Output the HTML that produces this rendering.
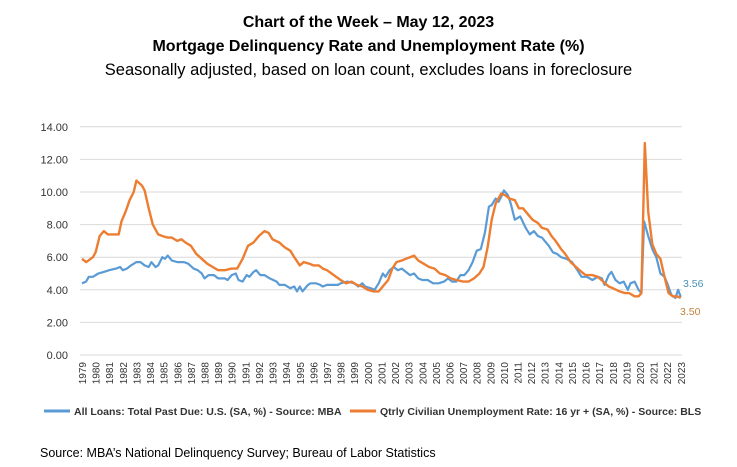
<!DOCTYPE html>
<html><head><meta charset="utf-8"><style>
body{margin:0;width:737px;height:467px;background:#fff;font-family:"Liberation Sans",sans-serif;overflow:hidden}
.t{position:absolute;left:0;width:737px;text-align:center;color:#000}
</style></head><body>
<div class="t" style="top:14px;font-size:16px;font-weight:bold">Chart of the Week – May 12, 2023</div>
<div class="t" style="top:38px;font-size:16px;font-weight:bold">Mortgage Delinquency Rate and Unemployment Rate (%)</div>
<div class="t" style="top:61px;font-size:16.5px">Seasonally adjusted, based on loan count, excludes loans in foreclosure</div>
<svg id="s" width="737" height="467" style="position:absolute;left:0;top:0" xmlns="http://www.w3.org/2000/svg"></svg>
<script>
const s=document.getElementById('s');
const X=y=>82+(y-1979)*13.61, Y=v=>355-v*16.3;
let h='';
for(let v=0;v<=14;v+=2){h+=`<line x1="80" x2="682" y1="${Y(v)}" y2="${Y(v)}" stroke="#d9d9d9" stroke-width="1"/>`;
h+=`<text x="68" y="${Y(v)+4}" font-size="11" text-anchor="end" fill="#333">${v.toFixed(2)}</text>`;}
for(let yr=1979;yr<=2023;yr++){const x=X(yr)+4;h+=`<text transform="translate(${x},362) rotate(-90)" font-size="10" text-anchor="end" fill="#333">${yr}</text>`;}
const o=[1979,5.9,1979.3,5.7,1979.8,6.0,1980.0,6.3,1980.3,7.3,1980.6,7.6,1980.9,7.4,1981.3,7.4,1981.7,7.4,1981.9,8.2,1982.2,8.8,1982.5,9.5,1982.8,10.0,1983.0,10.7,1983.4,10.4,1983.6,10.1,1983.9,9.0,1984.2,8.0,1984.6,7.4,1984.9,7.3,1985.3,7.2,1985.6,7.2,1986.0,7.0,1986.3,7.1,1986.6,6.9,1987.0,6.7,1987.4,6.2,1987.8,5.9,1988.2,5.6,1988.6,5.4,1989.0,5.2,1989.5,5.2,1990.0,5.3,1990.4,5.3,1990.8,5.9,1991.2,6.7,1991.6,6.9,1992.0,7.3,1992.4,7.6,1992.7,7.5,1993.0,7.1,1993.5,6.9,1993.9,6.6,1994.3,6.4,1994.6,6.0,1995.0,5.5,1995.3,5.7,1995.7,5.6,1996.0,5.5,1996.4,5.5,1996.7,5.3,1997.0,5.2,1997.5,4.9,1998.0,4.6,1998.4,4.4,1998.8,4.5,1999.2,4.3,1999.6,4.2,2000.0,4.0,2000.4,3.9,2000.8,3.9,2001.2,4.3,2001.5,4.6,2001.8,5.3,2002.1,5.7,2002.5,5.8,2002.8,5.9,2003.1,6.0,2003.4,6.1,2003.7,5.8,2004.1,5.6,2004.5,5.4,2004.9,5.3,2005.3,5.0,2005.7,4.9,2006.1,4.7,2006.5,4.6,2007.0,4.5,2007.4,4.5,2007.8,4.7,2008.2,5.0,2008.5,5.4,2008.8,6.6,2009.1,8.3,2009.4,9.3,2009.8,9.9,2010.1,9.8,2010.4,9.6,2010.8,9.5,2011.1,9.0,2011.4,9.0,2011.8,8.6,2012.1,8.3,2012.5,8.1,2012.8,7.8,2013.2,7.7,2013.5,7.3,2013.8,7.0,2014.2,6.5,2014.5,6.2,2014.9,5.7,2015.3,5.4,2015.7,5.1,2016.0,4.9,2016.5,4.9,2016.9,4.8,2017.3,4.5,2017.7,4.2,2018.0,4.1,2018.5,3.9,2018.9,3.8,2019.2,3.8,2019.6,3.6,2019.9,3.6,2020.1,3.8,2020.35,13.0,2020.6,8.8,2020.9,6.8,2021.2,6.2,2021.5,5.9,2021.8,4.8,2022.1,3.8,2022.4,3.6,2022.7,3.6,2023.0,3.5];
const b=[1979,4.4,1979.3,4.5,1979.5,4.8,1979.8,4.8,1980.2,5.0,1980.6,5.1,1981,5.2,1981.5,5.3,1981.8,5.4,1982.0,5.2,1982.3,5.3,1982.6,5.5,1983,5.7,1983.3,5.7,1983.6,5.5,1983.9,5.4,1984.1,5.7,1984.4,5.4,1984.6,5.5,1984.9,6.0,1985.1,5.9,1985.3,6.1,1985.6,5.8,1986,5.7,1986.5,5.7,1986.8,5.6,1987.2,5.3,1987.5,5.2,1987.8,5.0,1988.0,4.7,1988.3,4.9,1988.7,4.9,1989.0,4.7,1989.5,4.7,1989.7,4.6,1990.0,4.9,1990.3,5.0,1990.5,4.6,1990.8,4.5,1991.1,4.9,1991.3,4.8,1991.6,5.1,1991.8,5.2,1992.1,4.9,1992.4,4.9,1992.8,4.7,1993.3,4.5,1993.5,4.3,1993.9,4.3,1994.3,4.1,1994.6,4.2,1994.8,3.9,1995.0,4.2,1995.2,3.9,1995.6,4.3,1995.8,4.4,1996.2,4.4,1996.5,4.3,1996.7,4.2,1997,4.3,1997.3,4.3,1997.8,4.3,1998.0,4.4,1998.5,4.5,1999,4.4,1999.3,4.2,1999.6,4.4,1999.8,4.2,2000.2,4.1,2000.5,4.0,2000.8,4.4,2001.1,5.0,2001.3,4.8,2001.6,5.2,2001.9,5.4,2002.2,5.2,2002.5,5.3,2002.8,5.1,2003.1,4.9,2003.4,5.0,2003.7,4.7,2004.0,4.6,2004.4,4.6,2004.8,4.4,2005.2,4.4,2005.6,4.5,2005.9,4.7,2006.2,4.5,2006.5,4.5,2006.8,4.9,2007.1,4.9,2007.4,5.2,2007.7,5.7,2008.0,6.4,2008.3,6.5,2008.6,7.5,2008.9,9.1,2009.1,9.2,2009.4,9.6,2009.6,9.4,2009.8,9.7,2010.0,10.1,2010.3,9.8,2010.5,9.3,2010.8,8.3,2011.2,8.5,2011.6,7.8,2011.9,7.4,2012.2,7.6,2012.5,7.3,2012.8,7.2,2013.0,7.0,2013.3,6.7,2013.6,6.3,2013.9,6.2,2014.2,6.0,2014.6,5.9,2015.0,5.7,2015.4,5.2,2015.7,4.8,2016.1,4.8,2016.5,4.6,2016.9,4.8,2017.2,4.7,2017.4,4.3,2017.7,4.9,2017.9,5.1,2018.2,4.6,2018.5,4.4,2018.8,4.5,2019.1,4.0,2019.3,4.4,2019.6,4.5,2019.9,4.0,2020.1,3.8,2020.3,8.2,2020.6,7.3,2020.9,6.5,2021.2,6.0,2021.5,5.0,2021.8,4.8,2022.0,4.4,2022.3,3.7,2022.6,3.5,2022.8,4.0,2023.0,3.56];
const P=a=>{let p=[];for(let i=0;i<a.length;i+=2)p.push(X(a[i]).toFixed(1)+','+Y(a[i+1]).toFixed(1));return p.join(' ')};
h+=`<polyline points="${P(b)}" fill="none" stroke="#5B9BD5" stroke-width="2.2" stroke-linejoin="round"/>`;
h+=`<polyline points="${P(o)}" fill="none" stroke="#ED7D31" stroke-width="2.4" stroke-linejoin="round"/>`;
h+=`<text x="683" y="287" font-size="10.5" fill="#4a90b8">3.56</text><text x="680" y="315" font-size="10.5" fill="#c0803a">3.50</text>`;
h+=`<line x1="44" x2="70" y1="411" y2="411" stroke="#5B9BD5" stroke-width="3"/><text x="74" y="415" font-size="10.5" font-weight="bold" fill="#333">All Loans: Total Past Due: U.S. (SA, %) - Source: MBA</text>`;
h+=`<line x1="350" x2="376" y1="411" y2="411" stroke="#ED7D31" stroke-width="3"/><text x="380" y="415" font-size="10.5" font-weight="bold" fill="#333">Qtrly Civilian Unemployment Rate: 16 yr + (SA, %) - Source: BLS</text>`;
h+=`<text x="40" y="457" font-size="12.5" fill="#000">Source: MBA’s National Delinquency Survey; Bureau of Labor Statistics</text>`;
s.innerHTML=h;
</script>
</body></html>
